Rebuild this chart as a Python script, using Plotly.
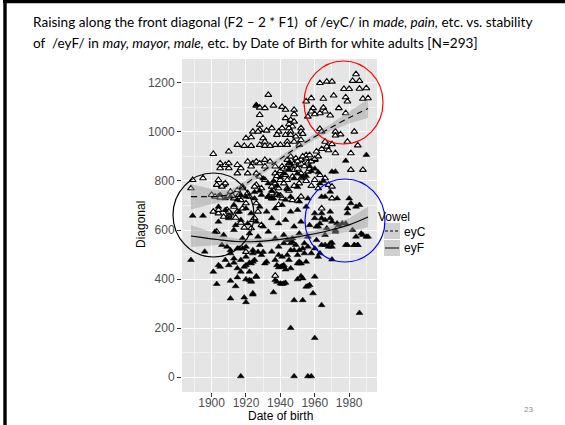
import plotly.graph_objects as go

# ---------------- data ----------------
eyC_year = [1984,1963,1967,1970,1982,1986,1977,1980,1986,1990,1971,1978,1958,1965,1988,1991,1979,1933,1926,1928,
            1931,1936,1941,1943,1928,1948,1948,1955,1959,1958,1965,1966,1956,1960,1963,1969,1974,1978,1983,1943,
            1946,1948,1945,1947,1945,1946,1941,1935,1928,1928,1924,1939,1952,1952,1963,1927,1920,1923,1930,1931,
            1938,1943,1946,1949,1953,1944,1948,1952,1951,1940,1944,1937,1964,1972,1979,1985,1915,1919,1923,1928,
            1931,1934,1910,1901,1905,1908,1910,1905,1910,1915,1917,1921,1924,1926,1928,1931,1934,1923,1931,1937,
            1941,1944,1946,1949,1952,1955,1945,1948,1951,1960,1972,1981,1981,1988,1915,1921,1926,1928,1931,1937,
            1943,1947,1940,1942,1944,1952,1956,1952,1960,1963,1966,1895,1889,1888,1904,1903,1907,1908,1918,1926,
            1929,1937,1935,1939,1968,1970,1906,1900,1904,1911,1915,1918,1921,1922,1925,1917,1920,1913,1918,1915,
            1911,1909,1901,1904,1907,1910,1902,1905,1910,1913,1916,1904,1910,1910,1924,1927,1925,1929,1923,1903,
            1920,1937,1941,1947,1952,1935,1939,1964,1970,1926,1933,1938,1935,1938,1940,1942,1944,1946,1948,1950,
            1952,1954,1956,1958,1960,1962,1955,1957,1945,1950,1953,1957,1961,1964,1967,1970,1966,1968,1972,1975,
            1932,1936,1940,1944,1948,1951,1955,1958,1962,1945,1950,1912,1917,1919,1914]
eyC_diag = [1235,1199,1205,1205,1208,1208,1175,1175,1176,1178,1148,1141,1137,1135,1135,1137,1124,1151,1107,1099,
            1097,1107,1102,1090,1069,1090,1072,1124,1097,1083,1099,1083,1062,1072,1076,1067,1097,1076,1001,1056,
            1049,1042,1031,1022,1015,1001,1015,1015,1029,1008,1001,1001,1015,1001,1012,1001,974,978,974,960,
            988,988,988,981,992,960,960,967,947,947,947,947,1001,1001,960,945,947,943,943,947,
            943,943,920,910,872,865,872,852,852,865,852,879,872,879,872,886,879,859,859,859,
            859,886,899,892,886,892,872,872,865,886,913,913,845,845,831,831,831,818,804,831,
            824,818,804,790,804,831,838,811,804,824,811,811,804,770,804,784,784,790,770,784,
            770,790,777,770,784,777,777,743,736,756,763,777,750,736,777,722,709,695,688,675,
            668,682,675,668,654,661,736,732,739,729,743,682,654,675,641,675,648,620,607,593,511,
            414,729,722,736,729,702,688,729,709,736,743,750,820,840,850,855,860,845,850,870,
            860,875,880,890,900,905,850,865,880,900,905,920,930,940,950,960,925,985,990,1005,
            760,740,770,780,790,800,780,770,760,720,740,630,610,650,600]

eyF_year = [1917,1948,1956,1958,1946,1960,1986,1964,1948,1953,1911,1919,1920,1924,1924,1936,1959,1955,1957,1903,
            1911,1914,1915,1920,1923,1923,1922,1926,1937,1938,1940,1941,1942,1943,1950,1952,1953,1956,1960,1901,
            1904,1905,1910,1913,1915,1917,1920,1922,1924,1925,1917,1919,1922,1926,1932,1931,1923,1937,1939,1941,
            1943,1945,1946,1938,1940,1942,1942,1950,1951,1950,1951,1952,1955,1888,1908,1913,1970,1962,1963,1964,
            1968,1970,1978,1983,1985,1958,1956,1953,1954,1951,1949,1947,1946,1944,1942,1939,1941,1946,1909,1911,
            1915,1918,1920,1924,1927,1930,1928,1969,1964,1966,1980,1981,1984,1986,1979,1979,1973,1969,1964,1966,
            1963,1969,1973,1976,1972,1961,1967,1960,1988,1991,1982,1978,1990,
            1905,1908,1911,1915,1917,1920,1925,1929,1933,1936,1939,1943,1946,1951,1956,
            1904,1908,1913,1916,1920,1923,1928,1932,1937,1941,1946,1950,1955,1960,1964,
            1889,1895,1904,1910,1914,1917,1921,1926,1930,1935,1939,1943,1948,1952,1957,1962,1970,1974,1978,
            1902,1907,1913,1918,1922,1927,1933,1937,1942,1947,1951,1956,1961,1966,1972,1984,1987,1990,
            1896,1906,1911,1916,1920,1924,1929,1935,1939,1944,1948,1954,1960,1966,1969,1970,1979,1983,1985,
            1945,1950,1953,1957,1960,1962,1965,1970,1972,1930,1936,1940,1946,1942,1948,1955,1958,1963,1938,1933,
            1928,1925,1944,1950,1935,1926]
eyF_diag = [4,4,4,4,201,160,262,294,314,314,321,325,306,337,342,346,342,369,376,380,
            393,371,407,399,393,389,396,409,396,389,382,380,382,385,399,412,403,371,410,430,
            457,450,457,467,444,478,457,467,471,478,430,450,430,412,471,464,464,478,448,453,
            439,478,444,457,450,450,457,464,464,498,471,464,471,478,478,484,480,491,505,539,
            532,548,539,539,539,505,532,525,546,518,539,552,546,559,546,498,491,518,532,518,
            525,525,532,505,511,511,539,756,736,736,729,709,695,702,688,668,729,675,668,641,
            627,648,627,627,600,614,607,648,580,573,600,882,906,
            743,729,736,723,743,736,729,743,736,729,743,723,736,716,729,
            695,682,702,675,688,668,695,675,688,702,675,682,695,668,648,
            658,658,634,648,620,641,627,634,614,648,627,641,614,634,620,614,634,620,627,
            593,580,600,566,586,573,593,566,580,566,586,573,559,580,593,573,586,573,
            512,539,505,525,491,518,498,512,532,498,518,505,525,539,546,532,539,539,539,
            845,830,815,860,850,835,800,838,838,810,800,815,870,830,810,820,840,790,780,790,
            760,755,765,775,760,1110]

# loess fits
fit_year = [1888, 1895, 1900, 1905, 1910, 1915, 1920, 1930, 1940, 1950, 1960, 1965, 1970, 1980, 1991]
eyC_fit = [736, 736, 736, 738, 745, 762, 788, 840, 890, 938, 980, 1000, 1020, 1058, 1095]
eyC_se = [52, 40, 31, 24, 18, 15, 13, 11, 11, 11, 12, 13, 15, 24, 38]
eyF_fit = [576, 569, 564, 560, 556, 553, 552, 555, 562, 572, 585, 592, 601, 621, 653]
eyF_se = [45, 35, 27, 20, 15, 12, 11, 10, 10, 11, 13, 15, 18, 27, 42]

x_ticks = [1900, 1920, 1940, 1960, 1980]
y_ticks = [0, 200, 400, 600, 800, 1000, 1200]
series_names = ["eyC", "eyF"]

# ---------------- layout geometry (pixels) ----------------
W, H = 565, 425
PL, PR, PT, PB = 182, 377, 59, 392


def fx(px):
    return (px - PL) / (PR - PL)


def fy(py):
    return (PB - py) / (PB - PT)


fig = go.Figure()

# points
fig.add_trace(go.Scatter(x=eyC_year, y=eyC_diag, mode="markers", showlegend=False,
                         marker=dict(symbol="triangle-up", size=6, color="white",
                                     line=dict(color="black", width=1.1))))
fig.add_trace(go.Scatter(x=eyF_year, y=eyF_diag, mode="markers", showlegend=False,
                         marker=dict(symbol="triangle-up", size=6, color="black",
                                     line=dict(color="black", width=0.5))))

band_col = "rgba(153,153,153,0.45)"
for fit, se in [(eyC_fit, eyC_se), (eyF_fit, eyF_se)]:
    up = [f + s for f, s in zip(fit, se)]
    lo = [f - s for f, s in zip(fit, se)]
    fig.add_trace(go.Scatter(x=fit_year + fit_year[::-1], y=up + lo[::-1], fill="toself",
                             fillcolor=band_col, line=dict(width=0), mode="lines",
                             hoverinfo="skip", showlegend=False))
for fit, dash in [(eyC_fit, "6px,4px"), (eyF_fit, "solid")]:
    fig.add_trace(go.Scatter(x=fit_year, y=fit, mode="lines", showlegend=False,
                             line=dict(color="black", width=1.1, dash=dash, shape="spline")))

# legend keys (pixel overlay axes)
fig.add_trace(go.Scatter(x=[392], y=[231], xaxis="x2", yaxis="y2", mode="markers",
                         cliponaxis=False, showlegend=False,
                         marker=dict(symbol="triangle-up", size=5, color="white",
                                     line=dict(color="black", width=1))))
fig.add_trace(go.Scatter(x=[392], y=[248], xaxis="x2", yaxis="y2", mode="markers",
                         cliponaxis=False, showlegend=False,
                         marker=dict(symbol="triangle-up", size=5, color="black")))

font = "Liberation Sans, Arial, sans-serif"
shapes = []
# legend key backgrounds
for y0, y1 in [(223, 239), (240, 256)]:
    shapes.append(dict(type="rect", xref="paper", yref="paper", x0=fx(384), x1=fx(400),
                       y0=fy(y1), y1=fy(y0), fillcolor="#D0D0D0", line=dict(width=0), layer="below"))
shapes.append(dict(type="line", xref="paper", yref="paper", x0=fx(385), x1=fx(399), y0=fy(231), y1=fy(231),
                   line=dict(color="black", width=1, dash="3px,2px")))
shapes.append(dict(type="line", xref="paper", yref="paper", x0=fx(385), x1=fx(399), y0=fy(248), y1=fy(248),
                   line=dict(color="black", width=1)))
# hand-drawn circles
for (x0, x1, y0, y1, c) in [(173, 254, 173, 257, "black"), (304, 383, 61, 144, "red"), (305, 385, 179, 262, "blue")]:
    shapes.append(dict(type="circle", xref="paper", yref="paper", x0=fx(x0), x1=fx(x1),
                       y0=fy(y1), y1=fy(y0), line=dict(color=c, width=1.2)))
# slide border
shapes.append(dict(type="rect", xref="paper", yref="paper", x0=fx(3), x1=fx(565), y0=fy(3.3), y1=fy(0),
                   fillcolor="black", line=dict(width=0)))
shapes.append(dict(type="rect", xref="paper", yref="paper", x0=fx(3.3), x1=fx(6.7), y0=fy(425), y1=fy(0),
                   fillcolor="black", line=dict(width=0)))


def note(text, px, py, size=12, color="black", xanchor="center", family=font, angle=0):
    return dict(text=text, x=fx(px), y=fy(py), xref="paper", yref="paper", xanchor=xanchor,
                yanchor="middle", showarrow=False, textangle=angle,
                font=dict(family=family, size=size, color=color))


title_font = "Lato, Carlito, sans-serif"
annotations = [
    note("Raising along the front diagonal (F2 – 2 * F1)  of /eyC/ in <i>made, pain,</i> etc. vs. stability",
         31, 22, size=13.6, xanchor="left", family=title_font),
    note("of  /eyF/ in <i>may, mayor, male,</i> etc. by Date of Birth for white adults [N=293]",
         31, 43, size=13.6, xanchor="left", family=title_font),
    note("Diagonal", 141, 225, angle=-90),
    note("Date of birth", 280, 416),
    note("Vowel", 376, 216.5, xanchor="left"),
    note(series_names[0], 402, 232, xanchor="left"),
    note(series_names[1], 402, 248, xanchor="left"),
    note("23", 528, 409, size=8, color="#8C8C8C"),
]

fig.update_layout(
    width=W, height=H,
    margin=dict(l=PL, r=W - PR, t=PT, b=H - PB, pad=0),
    paper_bgcolor="white", plot_bgcolor="#E5E5E5",
    showlegend=False,
    shapes=shapes, annotations=annotations,
    xaxis=dict(range=[1882.8, 1996.2], tickvals=x_ticks, ticks="outside", ticklen=4, tickwidth=1,
               ticklabelstandoff=-4,
               tickcolor="#333333", showgrid=True, gridcolor="white", gridwidth=1.1, zeroline=False,
               showline=False, tickfont=dict(family=font, size=12, color="#4D4D4D"),
               minor=dict(tickvals=[1890, 1910, 1930, 1950, 1970, 1990], showgrid=True,
                          gridcolor="#F2F2F2", gridwidth=0.5, ticks="")),
    yaxis=dict(range=[-60, 1297], tickvals=y_ticks, ticks="outside", ticklen=4, tickwidth=1,
               tickcolor="#333333", showgrid=True, gridcolor="white", gridwidth=1.1, zeroline=False,
               showline=False, tickfont=dict(family=font, size=12, color="#4D4D4D"),
               minor=dict(tickvals=[100, 300, 500, 700, 900, 1100], showgrid=True,
                          gridcolor="#F2F2F2", gridwidth=0.5, ticks="")),
    xaxis2=dict(overlaying="x", range=[PL, PR], visible=False),
    yaxis2=dict(overlaying="y", range=[PB, PT], visible=False),
)

fig.write_html("out.html", config={"displayModeBar": False},
               post_script="document.body.style.margin='0';document.body.style.overflow='hidden';")
